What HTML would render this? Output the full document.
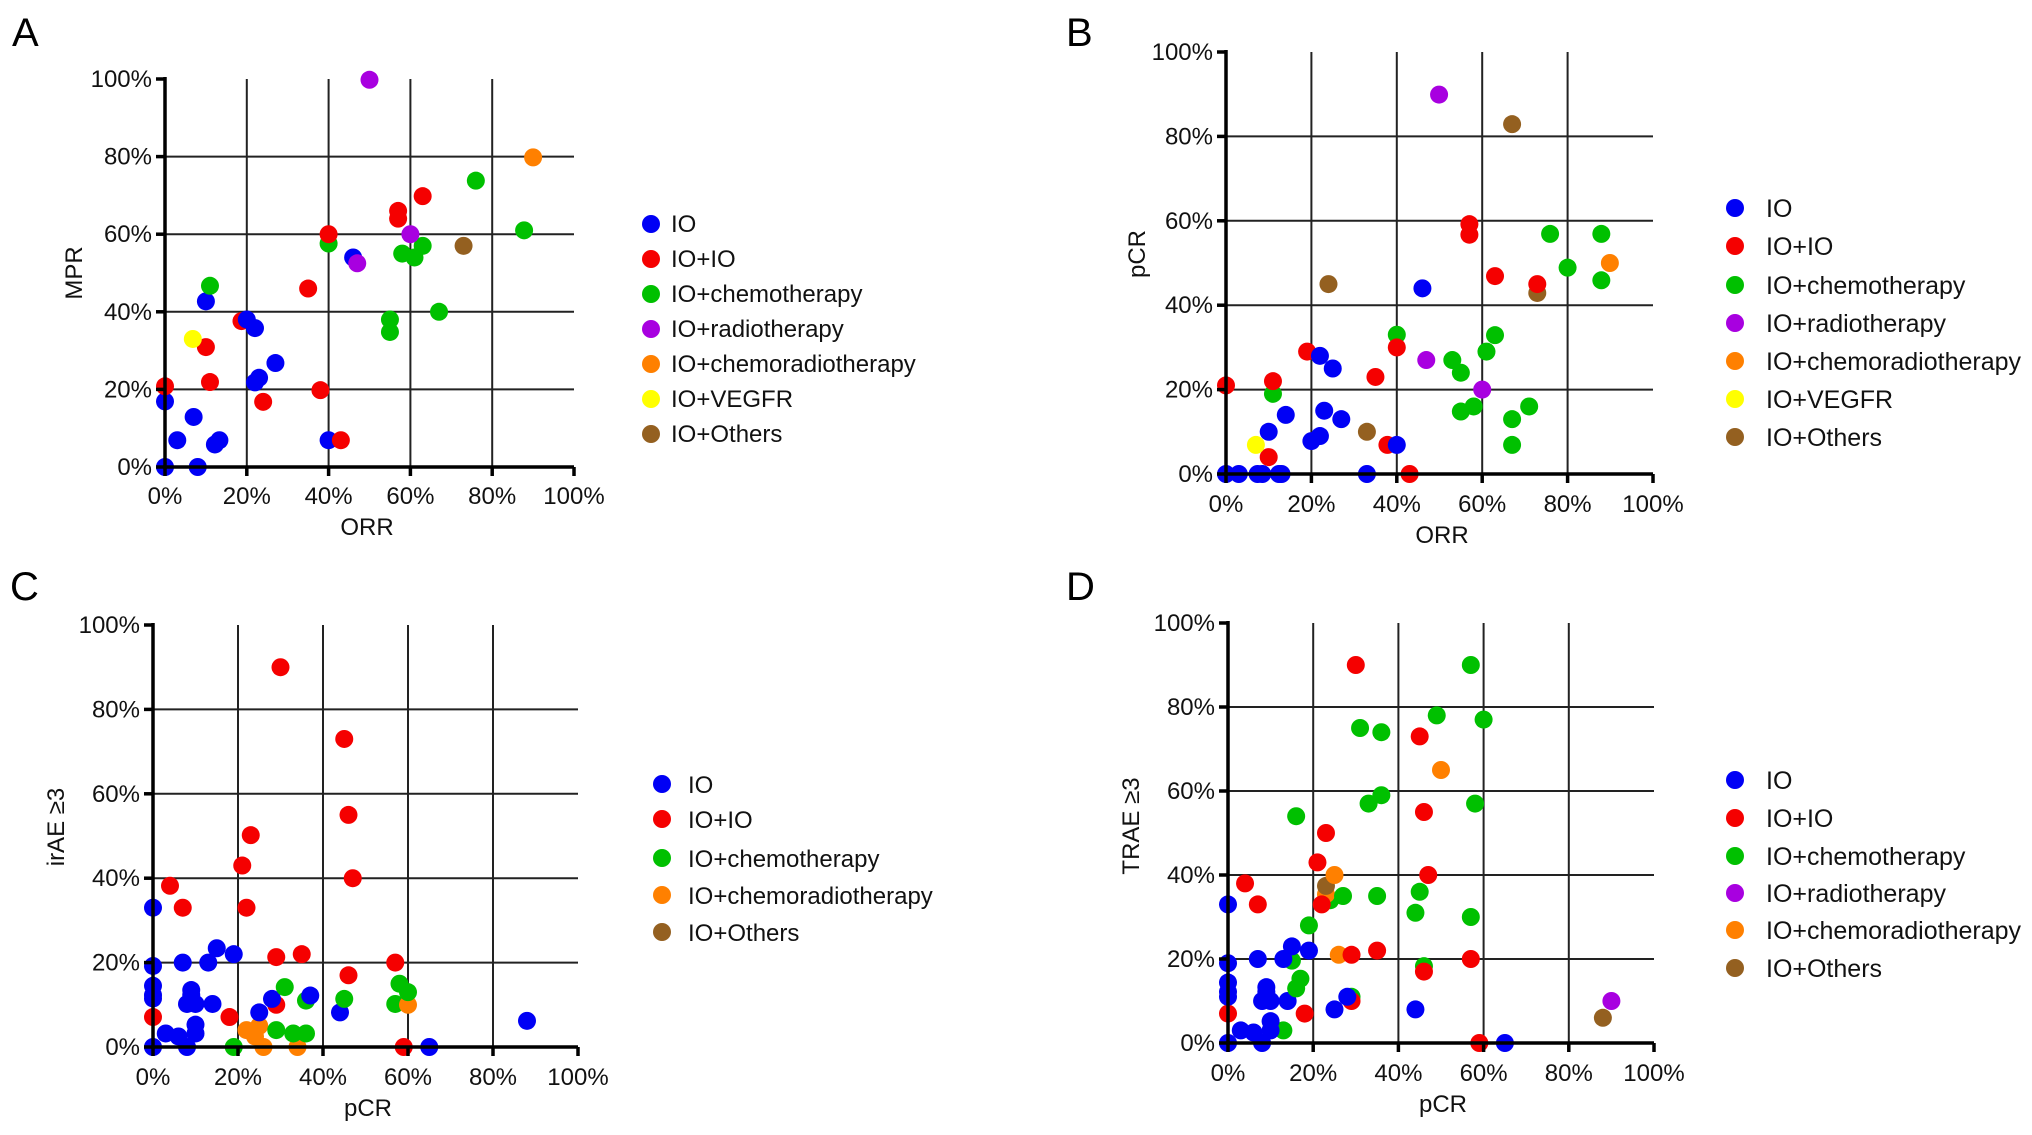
<!DOCTYPE html>
<html><head><meta charset="utf-8"><style>
html,body{margin:0;padding:0;background:#fff;}
svg{display:block;font-family:"Liberation Sans",Arial,sans-serif;}
.b{fill:#0000f5}.r{fill:#f50000}.g{fill:#00c000}.p{fill:#a800e0}.o{fill:#ff8000}.y{fill:#ffff00}.n{fill:#946020}
.gl{stroke:#222;stroke-width:2}
.ax{stroke:#000;stroke-width:3.5}
.tk{font-size:24px;fill:#111}
.lg{font-size:24px;fill:#111}
.at{font-size:24px;fill:#111}
.pl{font-size:40px;fill:#000}
</style></head><body>
<svg width="2032" height="1135" viewBox="0 0 2032 1135" xmlns="http://www.w3.org/2000/svg">
<rect width="2032" height="1135" fill="#fff"/>

<!-- ================= PANEL A ================= -->
<text class="pl" x="12" y="46">A</text>
<svg x="165" y="79" width="409" height="388" overflow="visible">
<g class="gl"><line x1="20%" y1="0" x2="20%" y2="100%"/><line x1="40%" y1="0" x2="40%" y2="100%"/><line x1="60%" y1="0" x2="60%" y2="100%"/><line x1="80%" y1="0" x2="80%" y2="100%"/>
<line x1="0" y1="20%" x2="100%" y2="20%"/><line x1="0" y1="40%" x2="100%" y2="40%"/><line x1="0" y1="60%" x2="100%" y2="60%"/><line x1="0" y1="80%" x2="100%" y2="80%"/></g>
<g>
<circle class="b" cx="0%" cy="100%" r="9"/><circle class="b" cx="8%" cy="100%" r="9"/>
<circle class="b" cx="0%" cy="83.1%" r="9"/><circle class="b" cx="7%" cy="87.1%" r="9"/>
<circle class="b" cx="3%" cy="93.1%" r="9"/><circle class="b" cx="12.2%" cy="94.2%" r="9"/><circle class="b" cx="13.3%" cy="93.1%" r="9"/>
<circle class="b" cx="40%" cy="93.1%" r="9"/><circle class="r" cx="43%" cy="93.1%" r="9"/>
<circle class="r" cx="24%" cy="83.2%" r="9"/><circle class="r" cx="38%" cy="80.2%" r="9"/><circle class="r" cx="0%" cy="79.2%" r="9"/><circle class="r" cx="11%" cy="78.1%" r="9"/>
<circle class="b" cx="27%" cy="73.2%" r="9"/><circle class="b" cx="23%" cy="77%" r="9"/><circle class="b" cx="22%" cy="78.2%" r="9"/>
<circle class="r" cx="10%" cy="69.1%" r="9"/><circle class="y" cx="6.8%" cy="67%" r="9"/>
<circle class="r" cx="18.7%" cy="62.4%" r="9"/><circle class="b" cx="20%" cy="62%" r="9"/><circle class="b" cx="22%" cy="64.2%" r="9"/>
<circle class="g" cx="55%" cy="62%" r="9"/><circle class="g" cx="55%" cy="65.2%" r="9"/><circle class="g" cx="67%" cy="60%" r="9"/>
<circle class="b" cx="10%" cy="57.3%" r="9"/><circle class="r" cx="35%" cy="54%" r="9"/><circle class="g" cx="11%" cy="53.3%" r="9"/>
<circle class="b" cx="46%" cy="46%" r="9"/><circle class="p" cx="47%" cy="47.5%" r="9"/>
<circle class="g" cx="58%" cy="45%" r="9"/><circle class="g" cx="61%" cy="46%" r="9"/>
<circle class="g" cx="40%" cy="42.4%" r="9"/><circle class="g" cx="63%" cy="43%" r="9"/><circle class="n" cx="73%" cy="43%" r="9"/>
<circle class="r" cx="40%" cy="40%" r="9"/><circle class="p" cx="60%" cy="40%" r="9"/><circle class="g" cx="87.8%" cy="39%" r="9"/>
<circle class="r" cx="57%" cy="34%" r="9"/><circle class="r" cx="57%" cy="36%" r="9"/><circle class="r" cx="63%" cy="30.2%" r="9"/>
<circle class="g" cx="76%" cy="26.2%" r="9"/><circle class="o" cx="90%" cy="20.2%" r="9"/><circle class="p" cx="50%" cy="0.2%" r="9"/>
</g>
</svg>
<g class="ax"><line x1="165" y1="77" x2="165" y2="469"/><line x1="163" y1="467" x2="574" y2="467"/></g>
<g class="ax" stroke-width="3"><line x1="156" y1="79" x2="165" y2="79"/><line x1="156" y1="156.6" x2="165" y2="156.6"/><line x1="156" y1="234.2" x2="165" y2="234.2"/><line x1="156" y1="311.8" x2="165" y2="311.8"/><line x1="156" y1="389.4" x2="165" y2="389.4"/><line x1="156" y1="467" x2="165" y2="467"/>
<line x1="165" y1="467" x2="165" y2="476"/><line x1="246.8" y1="467" x2="246.8" y2="476"/><line x1="328.6" y1="467" x2="328.6" y2="476"/><line x1="410.4" y1="467" x2="410.4" y2="476"/><line x1="492.2" y1="467" x2="492.2" y2="476"/><line x1="574" y1="467" x2="574" y2="476"/></g>
<g class="tk" text-anchor="end"><text x="152" y="87">100%</text><text x="152" y="164.6">80%</text><text x="152" y="242.2">60%</text><text x="152" y="319.8">40%</text><text x="152" y="397.4">20%</text><text x="152" y="475">0%</text></g>
<g class="tk" text-anchor="middle"><text x="165" y="504">0%</text><text x="246.8" y="504">20%</text><text x="328.6" y="504">40%</text><text x="410.4" y="504">60%</text><text x="492.2" y="504">80%</text><text x="574" y="504">100%</text></g>
<text class="at" x="367" y="535" text-anchor="middle">ORR</text>
<text class="at" transform="translate(82,273) rotate(-90)" text-anchor="middle">MPR</text>
<g><circle class="b" cx="651" cy="224" r="9"/><circle class="r" cx="651" cy="259" r="9"/><circle class="g" cx="651" cy="294" r="9"/><circle class="p" cx="651" cy="329" r="9"/><circle class="o" cx="651" cy="364" r="9"/><circle class="y" cx="651" cy="399" r="9"/><circle class="n" cx="651" cy="434" r="9"/></g>
<g class="lg"><text x="671" y="232">IO</text><text x="671" y="267">IO+IO</text><text x="671" y="302">IO+chemotherapy</text><text x="671" y="337">IO+radiotherapy</text><text x="671" y="372">IO+chemoradiotherapy</text><text x="671" y="407">IO+VEGFR</text><text x="671" y="442">IO+Others</text></g>

<!-- ================= PANEL B ================= -->
<text class="pl" x="1066" y="46">B</text>
<svg x="1226" y="52" width="427" height="422" overflow="visible">
<g class="gl"><line x1="20%" y1="0" x2="20%" y2="100%"/><line x1="40%" y1="0" x2="40%" y2="100%"/><line x1="60%" y1="0" x2="60%" y2="100%"/><line x1="80%" y1="0" x2="80%" y2="100%"/>
<line x1="0" y1="20%" x2="100%" y2="20%"/><line x1="0" y1="40%" x2="100%" y2="40%"/><line x1="0" y1="60%" x2="100%" y2="60%"/><line x1="0" y1="80%" x2="100%" y2="80%"/></g>
<g>
<circle class="b" cx="0%" cy="100%" r="9"/><circle class="b" cx="3%" cy="100%" r="9"/><circle class="b" cx="7.4%" cy="100%" r="9"/><circle class="b" cx="8.5%" cy="100%" r="9"/><circle class="b" cx="12.4%" cy="100%" r="9"/><circle class="b" cx="13%" cy="100%" r="9"/><circle class="b" cx="33%" cy="100%" r="9"/><circle class="r" cx="43%" cy="100%" r="9"/>
<circle class="r" cx="10%" cy="96%" r="9"/>
<circle class="b" cx="20%" cy="92.2%" r="9"/><circle class="b" cx="22%" cy="91%" r="9"/><circle class="r" cx="37.8%" cy="93.1%" r="9"/><circle class="b" cx="40%" cy="93.1%" r="9"/><circle class="y" cx="7%" cy="93.1%" r="9"/><circle class="g" cx="67%" cy="93.1%" r="9"/>
<circle class="b" cx="10%" cy="90%" r="9"/><circle class="n" cx="33%" cy="90%" r="9"/>
<circle class="b" cx="14%" cy="86%" r="9"/><circle class="b" cx="23%" cy="85%" r="9"/><circle class="b" cx="27%" cy="87%" r="9"/><circle class="g" cx="67%" cy="87%" r="9"/>
<circle class="g" cx="71%" cy="84%" r="9"/><circle class="g" cx="58%" cy="84%" r="9"/><circle class="g" cx="55%" cy="85.2%" r="9"/>
<circle class="g" cx="11%" cy="81%" r="9"/><circle class="p" cx="60%" cy="80%" r="9"/><circle class="r" cx="0%" cy="79%" r="9"/><circle class="r" cx="11%" cy="78%" r="9"/>
<circle class="r" cx="35%" cy="77%" r="9"/><circle class="g" cx="55%" cy="76%" r="9"/><circle class="b" cx="25%" cy="75%" r="9"/>
<circle class="p" cx="46.9%" cy="73%" r="9"/><circle class="g" cx="53%" cy="73%" r="9"/>
<circle class="r" cx="19%" cy="71%" r="9"/><circle class="b" cx="22%" cy="72%" r="9"/><circle class="g" cx="61%" cy="71%" r="9"/>
<circle class="g" cx="40%" cy="67%" r="9"/><circle class="r" cx="40%" cy="70%" r="9"/><circle class="g" cx="63%" cy="67.1%" r="9"/>
<circle class="b" cx="46%" cy="56%" r="9"/><circle class="n" cx="24%" cy="55%" r="9"/>
<circle class="n" cx="72.9%" cy="57.1%" r="9"/><circle class="r" cx="72.9%" cy="55%" r="9"/><circle class="g" cx="87.9%" cy="54.1%" r="9"/><circle class="r" cx="63%" cy="53.1%" r="9"/>
<circle class="g" cx="80%" cy="51.1%" r="9"/><circle class="o" cx="89.9%" cy="50%" r="9"/>
<circle class="g" cx="75.9%" cy="43.1%" r="9"/><circle class="g" cx="87.9%" cy="43.1%" r="9"/>
<circle class="r" cx="57%" cy="43.3%" r="9"/><circle class="r" cx="57%" cy="40.8%" r="9"/>
<circle class="n" cx="67%" cy="17.1%" r="9"/><circle class="p" cx="49.9%" cy="10.1%" r="9"/>
</g>
</svg>
<g class="ax"><line x1="1226" y1="50" x2="1226" y2="476"/><line x1="1224" y1="474" x2="1653" y2="474"/></g>
<g class="ax" stroke-width="3"><line x1="1217" y1="52" x2="1226" y2="52"/><line x1="1217" y1="136.4" x2="1226" y2="136.4"/><line x1="1217" y1="220.8" x2="1226" y2="220.8"/><line x1="1217" y1="305.2" x2="1226" y2="305.2"/><line x1="1217" y1="389.6" x2="1226" y2="389.6"/><line x1="1217" y1="474" x2="1226" y2="474"/>
<line x1="1226" y1="474" x2="1226" y2="483"/><line x1="1311.4" y1="474" x2="1311.4" y2="483"/><line x1="1396.8" y1="474" x2="1396.8" y2="483"/><line x1="1482.2" y1="474" x2="1482.2" y2="483"/><line x1="1567.6" y1="474" x2="1567.6" y2="483"/><line x1="1653" y1="474" x2="1653" y2="483"/></g>
<g class="tk" text-anchor="end"><text x="1213" y="60">100%</text><text x="1213" y="144.4">80%</text><text x="1213" y="228.8">60%</text><text x="1213" y="313.2">40%</text><text x="1213" y="397.6">20%</text><text x="1213" y="482">0%</text></g>
<g class="tk" text-anchor="middle"><text x="1226" y="512">0%</text><text x="1311.4" y="512">20%</text><text x="1396.8" y="512">40%</text><text x="1482.2" y="512">60%</text><text x="1567.6" y="512">80%</text><text x="1653" y="512">100%</text></g>
<text class="at" x="1442" y="543" text-anchor="middle">ORR</text>
<text class="at" transform="translate(1145,254) rotate(-90)" text-anchor="middle">pCR</text>
<g><circle class="b" cx="1735" cy="208" r="9"/><circle class="r" cx="1735" cy="246" r="9"/><circle class="g" cx="1735" cy="285" r="9"/><circle class="p" cx="1735" cy="323" r="9"/><circle class="o" cx="1735" cy="361" r="9"/><circle class="y" cx="1735" cy="399" r="9"/><circle class="n" cx="1735" cy="437" r="9"/></g>
<g class="lg" style="font-size:25px"><text x="1766" y="217">IO</text><text x="1766" y="255">IO+IO</text><text x="1766" y="294">IO+chemotherapy</text><text x="1766" y="332">IO+radiotherapy</text><text x="1766" y="370">IO+chemoradiotherapy</text><text x="1766" y="408">IO+VEGFR</text><text x="1766" y="446">IO+Others</text></g>

<!-- ================= PANEL C ================= -->
<text class="pl" x="10" y="600">C</text>
<svg x="153" y="625" width="425" height="422" overflow="visible">
<g class="gl"><line x1="20%" y1="0" x2="20%" y2="100%"/><line x1="40%" y1="0" x2="40%" y2="100%"/><line x1="60%" y1="0" x2="60%" y2="100%"/><line x1="80%" y1="0" x2="80%" y2="100%"/>
<line x1="0" y1="20%" x2="100%" y2="20%"/><line x1="0" y1="40%" x2="100%" y2="40%"/><line x1="0" y1="60%" x2="100%" y2="60%"/><line x1="0" y1="80%" x2="100%" y2="80%"/></g>
<g>
<circle class="b" cx="0%" cy="100%" r="9"/><circle class="b" cx="8%" cy="100%" r="9"/><circle class="g" cx="19%" cy="100%" r="9"/><circle class="o" cx="26%" cy="100%" r="9"/><circle class="o" cx="34%" cy="100%" r="9"/><circle class="r" cx="59%" cy="100%" r="9"/><circle class="b" cx="65%" cy="100%" r="9"/>
<circle class="b" cx="3%" cy="96.8%" r="9"/><circle class="b" cx="6%" cy="97.5%" r="9"/><circle class="b" cx="10%" cy="96.8%" r="9"/><circle class="b" cx="10%" cy="94.7%" r="9"/>
<circle class="o" cx="22%" cy="96%" r="9"/><circle class="o" cx="24%" cy="97.5%" r="9"/><circle class="o" cx="25%" cy="95%" r="9"/>
<circle class="g" cx="29%" cy="96%" r="9"/><circle class="g" cx="33%" cy="96.8%" r="9"/><circle class="g" cx="36%" cy="96.8%" r="9"/>
<circle class="b" cx="88%" cy="93.8%" r="9"/><circle class="r" cx="0%" cy="92.9%" r="9"/><circle class="r" cx="18%" cy="92.9%" r="9"/>
<circle class="b" cx="25%" cy="91.8%" r="9"/><circle class="b" cx="44%" cy="91.8%" r="9"/>
<circle class="b" cx="8%" cy="89.8%" r="9"/><circle class="b" cx="10%" cy="89.8%" r="9"/><circle class="b" cx="14%" cy="89.8%" r="9"/>
<circle class="r" cx="29%" cy="90%" r="9"/><circle class="g" cx="57%" cy="89.8%" r="9"/><circle class="o" cx="60%" cy="90%" r="9"/>
<circle class="g" cx="36%" cy="89%" r="9"/><circle class="g" cx="45%" cy="88.6%" r="9"/><circle class="b" cx="28%" cy="88.6%" r="9"/><circle class="b" cx="37%" cy="87.8%" r="9"/>
<circle class="b" cx="0%" cy="85.5%" r="9"/><circle class="b" cx="0%" cy="87.7%" r="9"/><circle class="b" cx="0%" cy="88.5%" r="9"/>
<circle class="g" cx="31%" cy="85.8%" r="9"/><circle class="b" cx="9%" cy="86.5%" r="9"/><circle class="b" cx="9%" cy="87.7%" r="9"/>
<circle class="g" cx="58%" cy="85%" r="9"/><circle class="g" cx="60%" cy="87%" r="9"/><circle class="r" cx="46%" cy="83%" r="9"/>
<circle class="b" cx="0%" cy="80.8%" r="9"/><circle class="b" cx="7%" cy="80%" r="9"/><circle class="b" cx="13%" cy="80%" r="9"/>
<circle class="b" cx="15%" cy="76.6%" r="9"/><circle class="b" cx="19%" cy="78%" r="9"/>
<circle class="r" cx="29%" cy="78.7%" r="9"/><circle class="r" cx="35%" cy="78%" r="9"/><circle class="r" cx="57%" cy="80%" r="9"/>
<circle class="b" cx="0%" cy="67%" r="9"/><circle class="r" cx="7%" cy="67%" r="9"/><circle class="r" cx="22%" cy="67%" r="9"/>
<circle class="r" cx="4%" cy="61.8%" r="9"/><circle class="r" cx="21%" cy="57%" r="9"/><circle class="r" cx="47%" cy="60%" r="9"/>
<circle class="r" cx="23%" cy="49.8%" r="9"/><circle class="r" cx="46%" cy="45%" r="9"/><circle class="r" cx="45%" cy="27%" r="9"/><circle class="r" cx="30%" cy="10%" r="9"/>
</g>
</svg>
<g class="ax"><line x1="153" y1="623" x2="153" y2="1049"/><line x1="151" y1="1047" x2="578" y2="1047"/></g>
<g class="ax" stroke-width="3"><line x1="144" y1="625" x2="153" y2="625"/><line x1="144" y1="709.4" x2="153" y2="709.4"/><line x1="144" y1="793.8" x2="153" y2="793.8"/><line x1="144" y1="878.2" x2="153" y2="878.2"/><line x1="144" y1="962.6" x2="153" y2="962.6"/><line x1="144" y1="1047" x2="153" y2="1047"/>
<line x1="153" y1="1047" x2="153" y2="1056"/><line x1="238" y1="1047" x2="238" y2="1056"/><line x1="323" y1="1047" x2="323" y2="1056"/><line x1="408" y1="1047" x2="408" y2="1056"/><line x1="493" y1="1047" x2="493" y2="1056"/><line x1="578" y1="1047" x2="578" y2="1056"/></g>
<g class="tk" text-anchor="end"><text x="140" y="633">100%</text><text x="140" y="717.4">80%</text><text x="140" y="801.8">60%</text><text x="140" y="886.2">40%</text><text x="140" y="970.6">20%</text><text x="140" y="1055">0%</text></g>
<g class="tk" text-anchor="middle"><text x="153" y="1085">0%</text><text x="238" y="1085">20%</text><text x="323" y="1085">40%</text><text x="408" y="1085">60%</text><text x="493" y="1085">80%</text><text x="578" y="1085">100%</text></g>
<text class="at" x="368" y="1116" text-anchor="middle">pCR</text>
<text class="at" transform="translate(64,827) rotate(-90)" text-anchor="middle">irAE ≥3</text>
<g><circle class="b" cx="662" cy="784" r="9"/><circle class="r" cx="662" cy="819" r="9"/><circle class="g" cx="662" cy="858" r="9"/><circle class="o" cx="662" cy="895" r="9"/><circle class="n" cx="662" cy="932" r="9"/></g>
<g class="lg"><text x="688" y="793">IO</text><text x="688" y="828">IO+IO</text><text x="688" y="867">IO+chemotherapy</text><text x="688" y="904">IO+chemoradiotherapy</text><text x="688" y="941">IO+Others</text></g>

<!-- ================= PANEL D ================= -->
<text class="pl" x="1066" y="600">D</text>
<svg x="1228" y="623" width="426" height="420" overflow="visible">
<g class="gl"><line x1="20%" y1="0" x2="20%" y2="100%"/><line x1="40%" y1="0" x2="40%" y2="100%"/><line x1="60%" y1="0" x2="60%" y2="100%"/><line x1="80%" y1="0" x2="80%" y2="100%"/>
<line x1="0" y1="20%" x2="100%" y2="20%"/><line x1="0" y1="40%" x2="100%" y2="40%"/><line x1="0" y1="60%" x2="100%" y2="60%"/><line x1="0" y1="80%" x2="100%" y2="80%"/></g>
<g>
<circle class="b" cx="0%" cy="100%" r="9"/><circle class="b" cx="8%" cy="100%" r="9"/><circle class="r" cx="59%" cy="100%" r="9"/><circle class="b" cx="65%" cy="100%" r="9"/>
<circle class="b" cx="3%" cy="97%" r="9"/><circle class="b" cx="6%" cy="97.5%" r="9"/><circle class="g" cx="13%" cy="97%" r="9"/><circle class="b" cx="10%" cy="97%" r="9"/><circle class="b" cx="10%" cy="94.8%" r="9"/>
<circle class="n" cx="88%" cy="94%" r="9"/><circle class="r" cx="0%" cy="93%" r="9"/><circle class="r" cx="18%" cy="93%" r="9"/>
<circle class="b" cx="25%" cy="92%" r="9"/><circle class="b" cx="44%" cy="92%" r="9"/>
<circle class="p" cx="90%" cy="90%" r="9"/><circle class="b" cx="8%" cy="90%" r="9"/><circle class="b" cx="10%" cy="90%" r="9"/><circle class="b" cx="14%" cy="90%" r="9"/>
<circle class="g" cx="29%" cy="89%" r="9"/><circle class="r" cx="29%" cy="90%" r="9"/><circle class="b" cx="28%" cy="89%" r="9"/>
<circle class="b" cx="0%" cy="85.6%" r="9"/><circle class="b" cx="0%" cy="87.8%" r="9"/><circle class="b" cx="0%" cy="89%" r="9"/>
<circle class="b" cx="9%" cy="86.7%" r="9"/><circle class="b" cx="9%" cy="87.8%" r="9"/>
<circle class="g" cx="17%" cy="84.7%" r="9"/><circle class="g" cx="16%" cy="87%" r="9"/>
<circle class="g" cx="46%" cy="81.7%" r="9"/><circle class="r" cx="46%" cy="83%" r="9"/>
<circle class="g" cx="15%" cy="80.4%" r="9"/><circle class="b" cx="0%" cy="81%" r="9"/><circle class="b" cx="7%" cy="80%" r="9"/><circle class="b" cx="13%" cy="80%" r="9"/>
<circle class="b" cx="15%" cy="77%" r="9"/><circle class="b" cx="19%" cy="78%" r="9"/>
<circle class="o" cx="26%" cy="79%" r="9"/><circle class="r" cx="29%" cy="79%" r="9"/><circle class="r" cx="35%" cy="78%" r="9"/><circle class="r" cx="57%" cy="80%" r="9"/>
<circle class="g" cx="19%" cy="72%" r="9"/><circle class="g" cx="44%" cy="69%" r="9"/><circle class="g" cx="57%" cy="70%" r="9"/>
<circle class="b" cx="0%" cy="67%" r="9"/><circle class="r" cx="7%" cy="67%" r="9"/>
<circle class="g" cx="24%" cy="66%" r="9"/><circle class="o" cx="23%" cy="64.6%" r="9"/><circle class="r" cx="22%" cy="67%" r="9"/>
<circle class="g" cx="27%" cy="65%" r="9"/><circle class="g" cx="35%" cy="65%" r="9"/><circle class="g" cx="45%" cy="64%" r="9"/>
<circle class="n" cx="23%" cy="62.6%" r="9"/><circle class="r" cx="4%" cy="62%" r="9"/>
<circle class="o" cx="25%" cy="60%" r="9"/><circle class="r" cx="47%" cy="60%" r="9"/><circle class="r" cx="21%" cy="57%" r="9"/>
<circle class="r" cx="23%" cy="50%" r="9"/><circle class="g" cx="16%" cy="46%" r="9"/><circle class="r" cx="46%" cy="45%" r="9"/>
<circle class="g" cx="33%" cy="43%" r="9"/><circle class="g" cx="58%" cy="43%" r="9"/><circle class="g" cx="36%" cy="41%" r="9"/>
<circle class="o" cx="50%" cy="35%" r="9"/><circle class="r" cx="45%" cy="27%" r="9"/>
<circle class="g" cx="31%" cy="25%" r="9"/><circle class="g" cx="36%" cy="26%" r="9"/><circle class="g" cx="49%" cy="22%" r="9"/><circle class="g" cx="60%" cy="23%" r="9"/>
<circle class="r" cx="30%" cy="10%" r="9"/><circle class="g" cx="57%" cy="10%" r="9"/>
</g>
</svg>
<g class="ax"><line x1="1228" y1="621" x2="1228" y2="1045"/><line x1="1226" y1="1043" x2="1654" y2="1043"/></g>
<g class="ax" stroke-width="3"><line x1="1219" y1="623" x2="1228" y2="623"/><line x1="1219" y1="707" x2="1228" y2="707"/><line x1="1219" y1="791" x2="1228" y2="791"/><line x1="1219" y1="875" x2="1228" y2="875"/><line x1="1219" y1="959" x2="1228" y2="959"/><line x1="1219" y1="1043" x2="1228" y2="1043"/>
<line x1="1228" y1="1043" x2="1228" y2="1052"/><line x1="1313.2" y1="1043" x2="1313.2" y2="1052"/><line x1="1398.4" y1="1043" x2="1398.4" y2="1052"/><line x1="1483.6" y1="1043" x2="1483.6" y2="1052"/><line x1="1568.8" y1="1043" x2="1568.8" y2="1052"/><line x1="1654" y1="1043" x2="1654" y2="1052"/></g>
<g class="tk" text-anchor="end"><text x="1215" y="631">100%</text><text x="1215" y="715">80%</text><text x="1215" y="799">60%</text><text x="1215" y="883">40%</text><text x="1215" y="967">20%</text><text x="1215" y="1051">0%</text></g>
<g class="tk" text-anchor="middle"><text x="1228" y="1081">0%</text><text x="1313.2" y="1081">20%</text><text x="1398.4" y="1081">40%</text><text x="1483.6" y="1081">60%</text><text x="1568.8" y="1081">80%</text><text x="1654" y="1081">100%</text></g>
<text class="at" x="1443" y="1112" text-anchor="middle">pCR</text>
<text class="at" transform="translate(1139,826) rotate(-90)" text-anchor="middle">TRAE ≥3</text>
<g><circle class="b" cx="1735" cy="780" r="9"/><circle class="r" cx="1735" cy="818" r="9"/><circle class="g" cx="1735" cy="856" r="9"/><circle class="p" cx="1735" cy="893" r="9"/><circle class="o" cx="1735" cy="930" r="9"/><circle class="n" cx="1735" cy="968" r="9"/></g>
<g class="lg" style="font-size:25px"><text x="1766" y="789">IO</text><text x="1766" y="827">IO+IO</text><text x="1766" y="865">IO+chemotherapy</text><text x="1766" y="902">IO+radiotherapy</text><text x="1766" y="939">IO+chemoradiotherapy</text><text x="1766" y="977">IO+Others</text></g>
</svg>
</body></html>
